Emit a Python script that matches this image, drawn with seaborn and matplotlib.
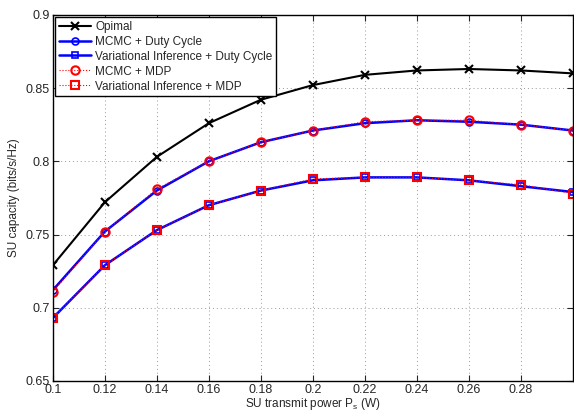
import pandas as pd
import matplotlib
matplotlib.use("Agg")
import matplotlib.pyplot as plt
import seaborn as sns

power = [0.1, 0.12, 0.14, 0.16, 0.18, 0.2, 0.22, 0.24, 0.26, 0.28, 0.3]
optimal = [0.729, 0.772, 0.803, 0.826, 0.842, 0.852, 0.859, 0.862, 0.863, 0.862, 0.860]
mcmc_duty = [0.712, 0.752, 0.780, 0.800, 0.813, 0.821, 0.826, 0.828, 0.827, 0.825, 0.821]
vi_duty = [0.693, 0.729, 0.753, 0.770, 0.780, 0.787, 0.789, 0.789, 0.787, 0.783, 0.779]
mcmc_mdp = [0.711, 0.752, 0.781, 0.800, 0.813, 0.821, 0.827, 0.828, 0.828, 0.825, 0.821]
vi_mdp = [0.693, 0.729, 0.753, 0.770, 0.780, 0.788, 0.789, 0.789, 0.787, 0.784, 0.778]

sns.set_style("ticks")
plt.rcParams['font.family'] = ['Liberation Sans', 'DejaVu Sans']

fig = plt.figure(figsize=(5.74, 4.11), dpi=100)
ax = fig.add_axes([0.092, 0.073, 0.906, 0.891])

sns.lineplot(x=power, y=optimal, ax=ax, color="black", marker="x", markersize=6,
             markeredgecolor="black", markeredgewidth=1.5, linewidth=1.5, label="Opimal")
sns.lineplot(x=power, y=mcmc_duty, ax=ax, color="blue", marker="o", markersize=5,
             markerfacecolor="none", markeredgecolor="blue", markeredgewidth=1.2,
             linewidth=1.8, label="MCMC + Duty Cycle")
sns.lineplot(x=power, y=vi_duty, ax=ax, color="blue", marker="s", markersize=5,
             markerfacecolor="none", markeredgecolor="blue", markeredgewidth=1.2,
             linewidth=1.8, label="Variational Inference + Duty Cycle")
sns.lineplot(x=power, y=mcmc_mdp, ax=ax, color="red", marker="o", markersize=6,
             markerfacecolor="none", markeredgecolor="red", markeredgewidth=1.5,
             linewidth=0.8, linestyle=":", alpha=1, label="MCMC + MDP")
sns.lineplot(x=power, y=vi_mdp, ax=ax, color="red", marker="s", markersize=5.5,
             markerfacecolor="none", markeredgecolor="red", markeredgewidth=1.5,
             linewidth=0.8, linestyle=":", label="Variational Inference + MDP")

ax.set_xlim(0.1, 0.3)
ax.set_ylim(0.65, 0.9)
ax.set_xticks([0.1, 0.12, 0.14, 0.16, 0.18, 0.2, 0.22, 0.24, 0.26, 0.28])
ax.set_xticklabels(["0.1", "0.12", "0.14", "0.16", "0.18", "0.2", "0.22", "0.24", "0.26", "0.28"])
ax.set_yticks([0.65, 0.7, 0.75, 0.8, 0.85, 0.9])
ax.set_yticklabels(["0.65", "0.7", "0.75", "0.8", "0.85", "0.9"])
ax.tick_params(direction="in", top=True, right=True, labelsize=9, length=4, pad=2)
ax.grid(True, linestyle=(0, (1, 3)), color="#999999", linewidth=0.7)
for s in ax.spines.values():
    s.set_visible(True)
    s.set_linewidth(1.0)
    s.set_color("black")

ax.set_xlabel("SU transmit power P$_\\mathregular{s}$ (W)", fontsize=8.5, labelpad=0)
ax.set_ylabel("SU capacity (bits/s/Hz)", fontsize=8.5, labelpad=4)

leg = ax.legend(loc="upper left", fontsize=8.5, frameon=True, fancybox=False,
                framealpha=1, edgecolor="black", borderpad=0.3, labelspacing=0.25,
                handlelength=2.7, handletextpad=0.4, borderaxespad=0.2)
leg.get_frame().set_linewidth(1.0)

fig.savefig("out.png", dpi=100)
